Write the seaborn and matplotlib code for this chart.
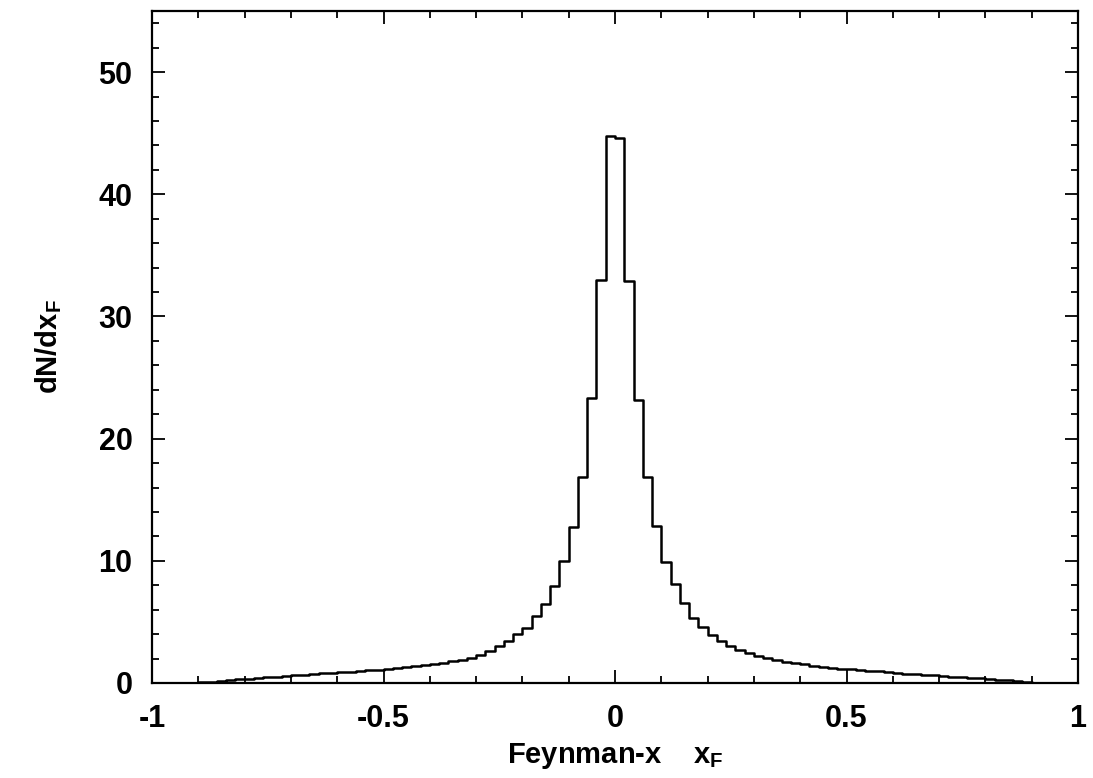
import numpy as np
import pandas as pd
import matplotlib
matplotlib.use("Agg")
import matplotlib.pyplot as plt
from matplotlib.ticker import MultipleLocator
import seaborn as sns

# Bin centres (100 bins of width 0.02 from -1 to 1)
bin_width = 0.02
bin_centers = np.round(np.arange(-0.99, 1.0, bin_width), 2)

# dN/dxF per bin (left half then right half)
left_values = [
    0.0, 0.0, 0.0, 0.0, 0.03, 0.07, 0.12, 0.17, 0.23, 0.29,
    0.35, 0.41, 0.46, 0.52, 0.58, 0.63, 0.68, 0.73, 0.78, 0.84,
    0.89, 0.94, 0.99, 1.04, 1.10, 1.16, 1.22, 1.30, 1.38, 1.48,
    1.58, 1.67, 1.78, 1.92, 2.07, 2.32, 2.62, 3.05, 3.46, 3.98,
    4.53, 5.48, 6.44, 7.94, 10.0, 12.74, 16.83, 23.3, 33.0, 44.8,
]
right_values = [
    44.6, 32.9, 23.2, 16.9, 12.85, 9.9, 8.08, 6.52, 5.29, 4.61,
    3.96, 3.46, 3.05, 2.68, 2.42, 2.2, 2.02, 1.86, 1.74, 1.64,
    1.53, 1.42, 1.33, 1.25, 1.18, 1.12, 1.06, 1.0, 0.95, 0.89,
    0.83, 0.77, 0.72, 0.67, 0.62, 0.57, 0.52, 0.47, 0.42, 0.37,
    0.32, 0.26, 0.21, 0.15, 0.09, 0.04, 0.01, 0.0, 0.0, 0.0,
]
values = left_values + right_values

x_ticks = [-1, -0.5, 0, 0.5, 1]
x_tick_labels = ["-1", "-0.5", "0", "0.5", "1"]
y_ticks = [0, 10, 20, 30, 40, 50]

df = pd.DataFrame({"xF": bin_centers, "w": values})

sns.set_style("ticks")
plt.rcParams["font.family"] = ["Liberation Sans", "DejaVu Sans"]
plt.rcParams["font.weight"] = "bold"
plt.rcParams["mathtext.fontset"] = "custom"
plt.rcParams["mathtext.rm"] = "Liberation Sans:bold"
plt.rcParams["mathtext.bf"] = "Liberation Sans:bold"
plt.rcParams["mathtext.it"] = "Liberation Sans:bold"

fig = plt.figure(figsize=(10.93, 7.78), dpi=100)
ax = fig.add_axes([152 / 1093, 1 - 683 / 778, (1078 - 152) / 1093, (683 - 11) / 778])

sns.histplot(data=df, x="xF", weights="w", binwidth=bin_width, binrange=(-1, 1),
             element="step", fill=False, color="black", linewidth=1.8, ax=ax)

ax.set_xlim(-1, 1)
ax.set_ylim(0, 55)
ax.set_xticks(x_ticks)
ax.set_xticklabels(x_tick_labels)
ax.set_yticks(y_ticks)
ax.xaxis.set_minor_locator(MultipleLocator(0.1))
ax.yaxis.set_minor_locator(MultipleLocator(2))
ax.tick_params(which="both", direction="in", top=True, right=True,
               labelsize=22, width=1.3, colors="black")
ax.tick_params(which="major", length=9.5)
ax.tick_params(which="minor", length=4.8)
ax.tick_params(axis="x", which="major", pad=15)
ax.tick_params(axis="y", which="major", pad=14)
for lab in ax.get_xticklabels() + ax.get_yticklabels():
    lab.set_fontweight("bold")
for s in ax.spines.values():
    s.set_linewidth(1.6)
    s.set_color("black")
    s.set_visible(True)

ax.set_xlabel("Feynman-x    x$_\\mathbf{F}$", fontsize=21, fontweight="bold", color="black")
ax.set_ylabel("dN/dx$_\\mathbf{F}$", fontsize=21, fontweight="bold", color="black")
ax.xaxis.set_label_coords(0.5, (683 - 741) / 672)
ax.yaxis.set_label_coords((64 - 152) / 926, 0.5)

fig.savefig("out.png", dpi=100)
